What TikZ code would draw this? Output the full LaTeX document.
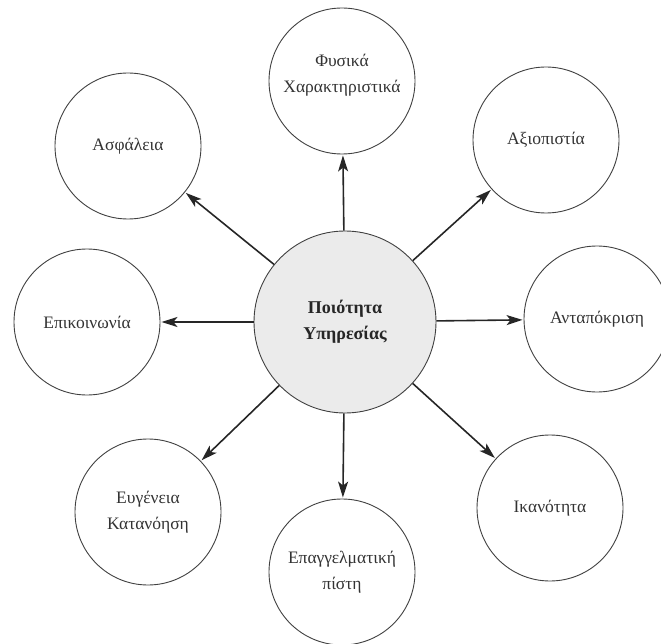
\documentclass[tikz,border=0pt]{standalone}
\usepackage{fontspec}
\setmainfont{Liberation Serif}
\usetikzlibrary{arrows.meta}
\tikzset{
  outer/.style={circle, draw=black!75, line width=0.9pt, minimum size=146pt, inner sep=0pt, align=center,
    font=\fontsize{17.5}{26}\selectfont, text=black!80},
  core/.style={circle, draw=black!75, line width=0.9pt, fill=black!8, minimum size=182pt, inner sep=0pt, align=center,
    font=\fontsize{18}{26}\selectfont\bfseries, text=black!85},
  link/.style={draw=black!85, line width=1.6pt, shorten >=1pt, -{Stealth[length=16pt,width=10pt,inset=4pt]}}
}
\begin{document}
\begin{tikzpicture}[x=1pt,y=-1pt]
\useasboundingbox (0,0) rectangle (661,644);
\node[core] (c) at (345,322) {Ποιότητα\\Υπηρεσίας};
\node[outer, label={[align=center, font=\fontsize{17.5}{26}\selectfont, text=black!80, yshift=6pt]center:Φυσικά\\Χαρακτηριστικά}] (top) at (342,81) {};
\node[outer] (tl) at (128,146) {Ασφάλεια};
\node[outer] (tr) at (546,140) {Αξιοπιστία};
\node[outer] (l) at (87,322) {Επικοινωνία};
\node[outer] (r) at (597,319) {Ανταπόκριση};
\node[outer] (bl) at (148,512) {Ευγένεια\\Κατανόηση};
\node[outer] (b) at (342,572) {Επαγγελματική\\πίστη};
\node[outer] (br) at (550,508) {Ικανότητα};
\draw[link] (c) -- (top);
\draw[link] (c) -- (tl);
\draw[link] (c) -- (tr);
\draw[link] (c) -- (l);
\draw[link] (c) -- (r);
\draw[link] (c) -- (bl);
\draw[link] (c) -- (b);
\draw[link] (c) -- (br);
\end{tikzpicture}
\end{document}
